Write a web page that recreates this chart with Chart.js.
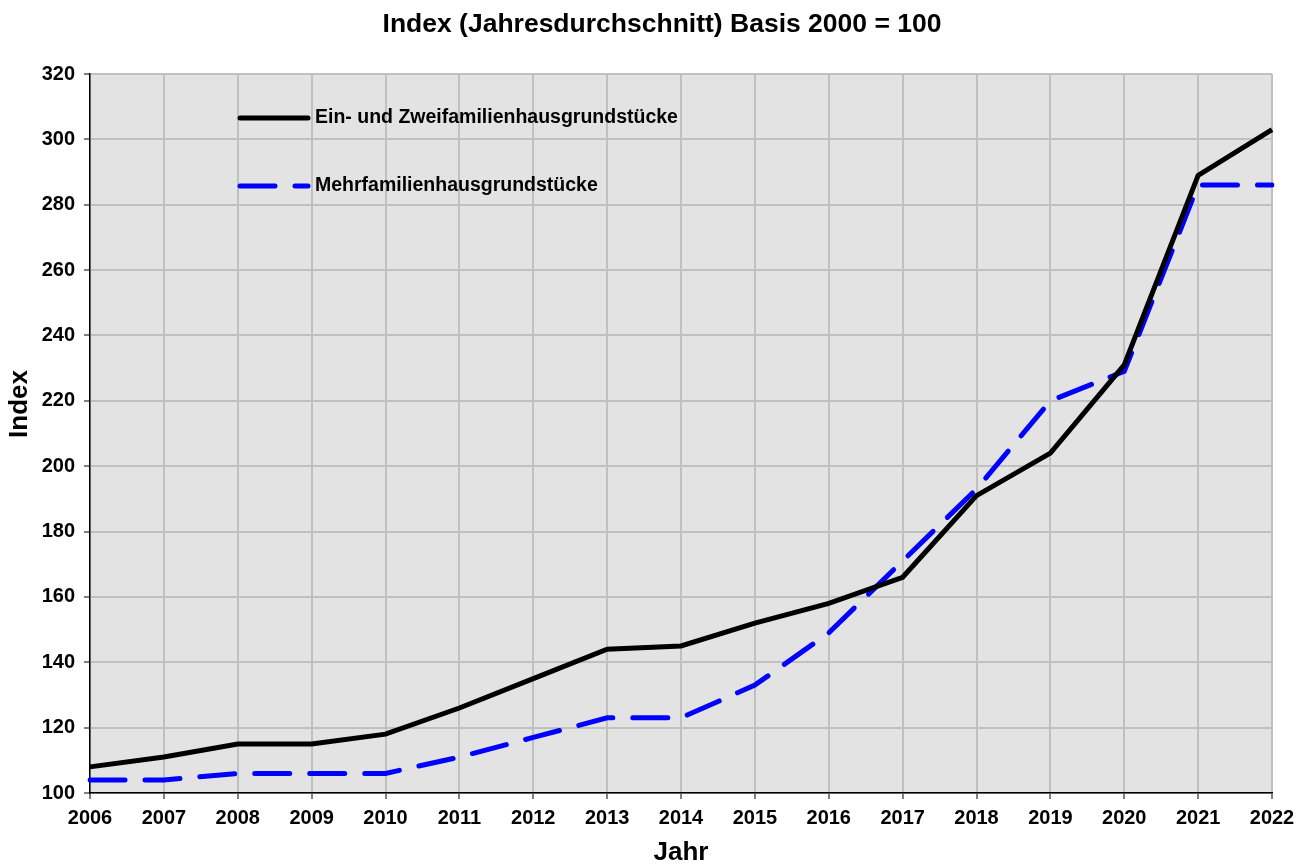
<!DOCTYPE html>
<html>
<head>
<meta charset="utf-8">
<script src="https://cdn.jsdelivr.net/npm/chart.js@4"></script>
<style>
  html, body { margin: 0; padding: 0; background: #fff; }
  #wrap { width: 1311px; height: 866px; }
</style>
</head>
<body>
<div id="wrap"><canvas id="chart" width="1311" height="866"></canvas></div>
<script>
// Jahre und Indexwerte (Basis 2000 = 100)
const years = ['2006', '2007', '2008', '2009', '2010', '2011', '2012', '2013', '2014',
               '2015', '2016', '2017', '2018', '2019', '2020', '2021', '2022'];
const einZweiFamilie = [108, 111, 115, 115, 118, 126, 135, 144, 145, 152, 158, 166, 191, 204, 231, 289, 303];
const mehrFamilie = [104, 104, 106, 106, 106, 111, 117, 123, 123, 133, 149, 171, 193, 220, 229, 286, 286];
const seriesNames = ['Ein- und Zweifamilienhausgrundstücke', 'Mehrfamilienhausgrundstücke'];
const chartTitle = 'Index (Jahresdurchschnitt) Basis 2000 = 100';
const yAxisTitle = 'Index';

const FONT = '"Liberation Sans", Arial, sans-serif';

// grauer Hintergrund der Zeichenfläche
const plotBackground = {
    id: 'plotBackground',
    beforeDraw(chart) {
        const { ctx, chartArea: a } = chart;
        ctx.save();
        ctx.fillStyle = '#e3e3e3';
        ctx.fillRect(a.left, a.top, a.right - a.left, a.bottom - a.top);
        ctx.restore();
    }
};

// Titel, Legende innerhalb der Zeichenfläche und Y-Achsentitel, wie im Original platziert
const annotations = {
    id: 'annotations',
    afterDatasetsDraw(chart) {
        const { ctx, chartArea: a } = chart;
        ctx.save();
        chart.data.datasets.forEach((ds, i) => {
            const y = a.top + 44 + i * 68;
            const x0 = a.left + 150;
            ctx.strokeStyle = ds.borderColor;
            ctx.lineWidth = ds.borderWidth;
            ctx.lineCap = 'round';
            ctx.setLineDash(ds.borderDash || []);
            ctx.beginPath();
            ctx.moveTo(x0, y);
            ctx.lineTo(x0 + 68, y);
            ctx.stroke();
            ctx.setLineDash([]);
            ctx.fillStyle = '#000';
            ctx.font = 'bold 19.5px ' + FONT;
            ctx.textBaseline = 'middle';
            ctx.fillText(ds.label, x0 + 75, y);
        });

        ctx.fillStyle = '#000';
        ctx.font = 'bold 26.5px ' + FONT;
        ctx.textAlign = 'center';
        ctx.textBaseline = 'middle';
        ctx.fillText(chartTitle, 662, 25);

        ctx.translate(20, a.top + 330);
        ctx.rotate(-Math.PI / 2);
        ctx.font = 'bold 26px ' + FONT;
        ctx.fillText(yAxisTitle, 0, 0);
        ctx.restore();
    }
};

const ctx = document.getElementById('chart').getContext('2d');
new Chart(ctx, {
    type: 'line',
    data: {
        labels: years,
        datasets: [
            {
                label: seriesNames[0],
                data: einZweiFamilie,
                borderColor: '#000000',
                borderWidth: 5,
                pointRadius: 0,
                tension: 0,
                fill: false
            },
            {
                label: seriesNames[1],
                data: mehrFamilie,
                borderColor: '#0000ff',
                borderWidth: 5,
                borderDash: [35, 20],
                borderCapStyle: 'round',
                pointRadius: 0,
                tension: 0,
                fill: false
            }
        ]
    },
    options: {
        responsive: false,
        animation: false,
        layout: { padding: { left: 0, right: 39, top: 74, bottom: 0 } },
        plugins: {
            legend: { display: false },
            tooltip: { enabled: false },
            title: { display: false }
        },
        scales: {
            x: {
                type: 'category',
                offset: false,
                grid: { color: '#c0c0c0', lineWidth: 2, tickColor: '#000', tickLength: 6, tickWidth: 1 },
                border: { color: '#000', width: 1.5 },
                ticks: {
                    color: '#000',
                    font: { family: FONT, size: 20, weight: 'bold' },
                    maxRotation: 0,
                    autoSkip: false,
                    padding: 7
                },
                title: {
                    display: true,
                    text: 'Jahr',
                    color: '#000',
                    font: { family: FONT, size: 26, weight: 'bold', lineHeight: 1 },
                    padding: { top: 6, bottom: 0 }
                },
                afterFit(scale) { scale.height = 73; }
            },
            y: {
                min: 100,
                max: 320,
                grid: { color: '#c0c0c0', lineWidth: 2, tickColor: '#000', tickLength: 6, tickWidth: 1 },
                border: { color: '#000', width: 1.5 },
                ticks: {
                    stepSize: 20,
                    color: '#000',
                    font: { family: FONT, size: 20, weight: 'bold' },
                    padding: 9
                },
                afterFit(scale) { scale.width = 90; }
            }
        }
    },
    plugins: [plotBackground, annotations]
});
</script>
</body>
</html>
